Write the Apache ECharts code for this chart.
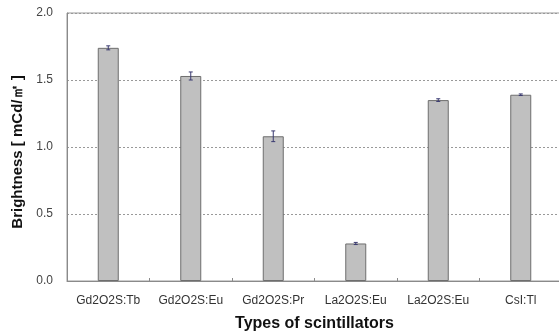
<!DOCTYPE html>
<html><head><meta charset="utf-8">
<script src="https://cdn.jsdelivr.net/npm/echarts@6/dist/echarts.min.js"></script>
<style>html,body{margin:0;padding:0;background:#fff}#c{width:559px;height:333px}</style>
</head><body><div id="c"></div>
<script>
const categories = ['Gd2O2S:Tb','Gd2O2S:Eu','Gd2O2S:Pr','La2O2S:Eu','La2O2S:Eu','CsI:Tl'];
const values = [1.74, 1.53, 1.08, 0.28, 1.35, 1.39];
const errors = [0.015, 0.03, 0.04, 0.008, 0.01, 0.006];
const yTicks = [0, 0.5, 1.0, 1.5, 2.0];

const chart = echarts.init(document.getElementById('c'), null, {renderer:'canvas'});
const font = 'Liberation Sans, Arial, sans-serif';
chart.setOption({
  animation:false,
  grid:{left:67, top:13, width:495, height:268, show:true, borderColor:'#9a9a9a', borderWidth:1,
        containLabel:false, outerBoundsMode:'none'},
  xAxis:{type:'category', data:categories,
    axisLine:{lineStyle:{color:'#8a8a8a'}},
    axisTick:{show:true, inside:true, length:3, lineStyle:{color:'#8a8a8a'}},
    axisLabel:{color:'#333', fontSize:12, fontFamily:font, margin:14, interval:0, hideOverlap:false},
    name:'Types of scintillators', nameLocation:'middle', nameGap:35,
    nameTextStyle:{color:'#111', fontSize:16, fontFamily:font, fontWeight:'bold'}
  },
  yAxis:{type:'value', min:yTicks[0], max:yTicks[yTicks.length-1], interval:0.5,
    axisLine:{show:true, lineStyle:{color:'#8a8a8a'}},
    axisTick:{show:false},
    axisLabel:{color:'#444', fontSize:12, fontFamily:font, margin:14, formatter:v=>v.toFixed(1)},
    splitLine:{show:true, lineStyle:{color:'#999', type:[2,2]}},
    name:'Brightness [ mCd/㎡ ]', nameLocation:'middle', nameGap:40,
    nameTextStyle:{color:'#111', fontSize:15, fontFamily:font, fontWeight:'bold', padding:[0,10,0,0]}
  },
  series:[
    {type:'bar', data:values, barWidth:21,
     itemStyle:{color:'#c0c0c0', borderColor:'#6e6e6e', borderWidth:1}},
    {type:'custom', data:values.map((v,i)=>[i,v,errors[i]]), z:5,
     renderItem:function(params, api){
       const x = api.coord([api.value(0), 0])[0];
       const top = api.coord([api.value(0), api.value(1)+api.value(2)])[1];
       const bot = api.coord([api.value(0), api.value(1)-api.value(2)])[1];
       const st = {stroke:'#3a3a70', lineWidth:1};
       return {type:'group', children:[
         {type:'line', shape:{x1:x, y1:top, x2:x, y2:bot}, style:st},
         {type:'line', shape:{x1:x-2, y1:top, x2:x+2, y2:top}, style:st},
         {type:'line', shape:{x1:x-2, y1:bot, x2:x+2, y2:bot}, style:st}
       ]};
     }}
  ]
});
</script></body></html>
